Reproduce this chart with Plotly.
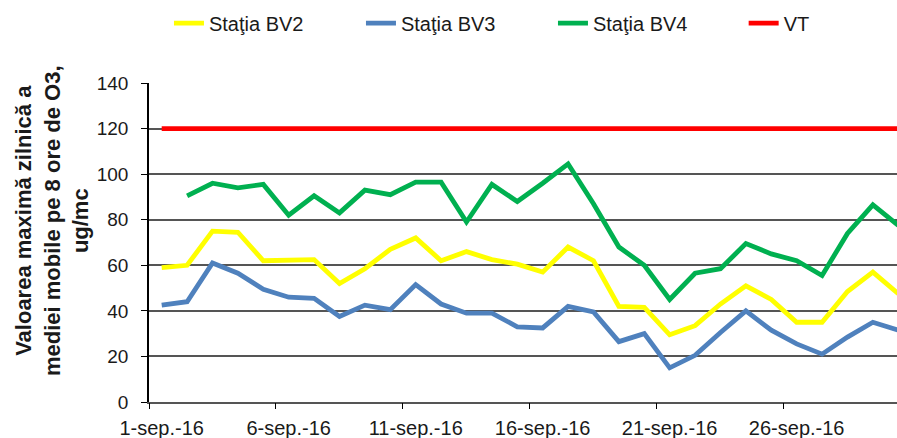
import plotly.graph_objects as go

days = list(range(1, 31))
tick_days = [1, 6, 11, 16, 21, 26]
tick_labels = ["1-sep.-16", "6-sep.-16", "11-sep.-16", "16-sep.-16", "21-sep.-16", "26-sep.-16"]
boundary_ticks = [0.5, 5.5, 10.5, 15.5, 20.5, 25.5]

bv2 = [59, 60, 75, 74.5, 62, 62, 62.5, 52, 58.5, 67, 72, 62, 66, 62.5, 60.5,
       57, 68, 62, 42, 41.5, 29.5, 33.5, 43, 51, 45, 35, 35, 48.5, 57, 47.5]
bv3 = [42.5, 44, 61, 56.5, 49.5, 46, 45.5, 37.5, 42.5, 40.5, 51.5, 43, 39, 39, 33,
       32.5, 42, 39.5, 26.5, 30, 15, 20.5, 30.5, 40, 31.5, 25.5, 21, 28.5, 35, 31.5]
bv4 = [None, 90.5, 96, 94, 95.5, 82, 90.5, 83, 93, 91, 96.5, 96.5, 79, 95.5, 88,
       96, 104.5, 87, 68, 60, 45, 56.5, 58.5, 69.5, 65, 62, 55.5, 74, 86.5, 77.5]
vt = [120] * 30

y_title = "<b>Valoarea maximă zilnică a<br>mediei mobile pe 8 ore de O3,<br>ug/mc</b>"

series = [
    ("Staţia BV2", bv2, "#FFFF00", "legend"),
    ("Staţia BV3", bv3, "#4F81BD", "legend"),
    ("Staţia BV4", bv4, "#00B050", "legend"),
    ("VT", vt, "#FF0000", "legend2"),
]

FONT = "Arial, Liberation Sans, sans-serif"

fig = go.Figure()
for name, vals, color, leg in series:
    fig.add_trace(go.Scatter(x=days, y=vals, mode="lines", name=name,
                             line=dict(color=color, width=4.8),
                             connectgaps=False, legend=leg))
# invisible trace to anchor the boundary-tick axis
fig.add_trace(go.Scatter(x=[days[0]], y=[0], xaxis="x2", yaxis="y",
                         mode="markers", marker=dict(opacity=0),
                         showlegend=False, hoverinfo="skip"))

xr = [0.5, 29.95]
leg_common = dict(orientation="h", xanchor="left", y=1.188, yanchor="middle",
                  font=dict(size=20, family=FONT, color="#1a1a1a"),
                  bgcolor="rgba(0,0,0,0)")
fig.update_layout(
    width=897, height=438,
    margin=dict(l=149, r=0, t=83, b=36, autoexpand=False),
    paper_bgcolor="white", plot_bgcolor="white",
    font=dict(family=FONT, color="#1a1a1a"),
    showlegend=True,
    legend=dict(x=0.0267, entrywidth=147, entrywidthmode="pixels", **leg_common),
    legend2=dict(x=0.795, **leg_common),
    xaxis=dict(range=xr, tickmode="array", tickvals=tick_days, ticktext=tick_labels,
               ticks="", showgrid=False, showline=True, linecolor="#555555",
               linewidth=2, tickfont=dict(size=20, family=FONT), zeroline=False,
               ticklabelstandoff=7),
    xaxis2=dict(range=xr, overlaying="x", anchor="y", side="bottom",
                tickmode="array", tickvals=boundary_ticks, ticks="outside",
                ticklen=6, tickcolor="#000000", showticklabels=False,
                showgrid=False, showline=False, zeroline=False),
    yaxis=dict(range=[0, 140], tickmode="array", tickvals=list(range(0, 141, 20)),
               ticks="outside", ticklen=6, tickcolor="#000000",
               showgrid=True, gridcolor="#555555", gridwidth=1.6,
               showline=True, linecolor="#000000", linewidth=1.5, zeroline=False,
               tickfont=dict(size=19, family=FONT), ticklabelstandoff=9),
    annotations=[dict(text=y_title, xref="paper", yref="paper",
                      x=-0.1297, y=0.5705, xanchor="center", yanchor="middle",
                      textangle=-90, showarrow=False, align="center",
                      font=dict(size=22, family=FONT, color="#1a1a1a"))],
)

fig.write_html("out.html",
               config={"displayModeBar": False},
               post_script="document.body.style.margin='0';document.body.style.overflow='hidden';")
